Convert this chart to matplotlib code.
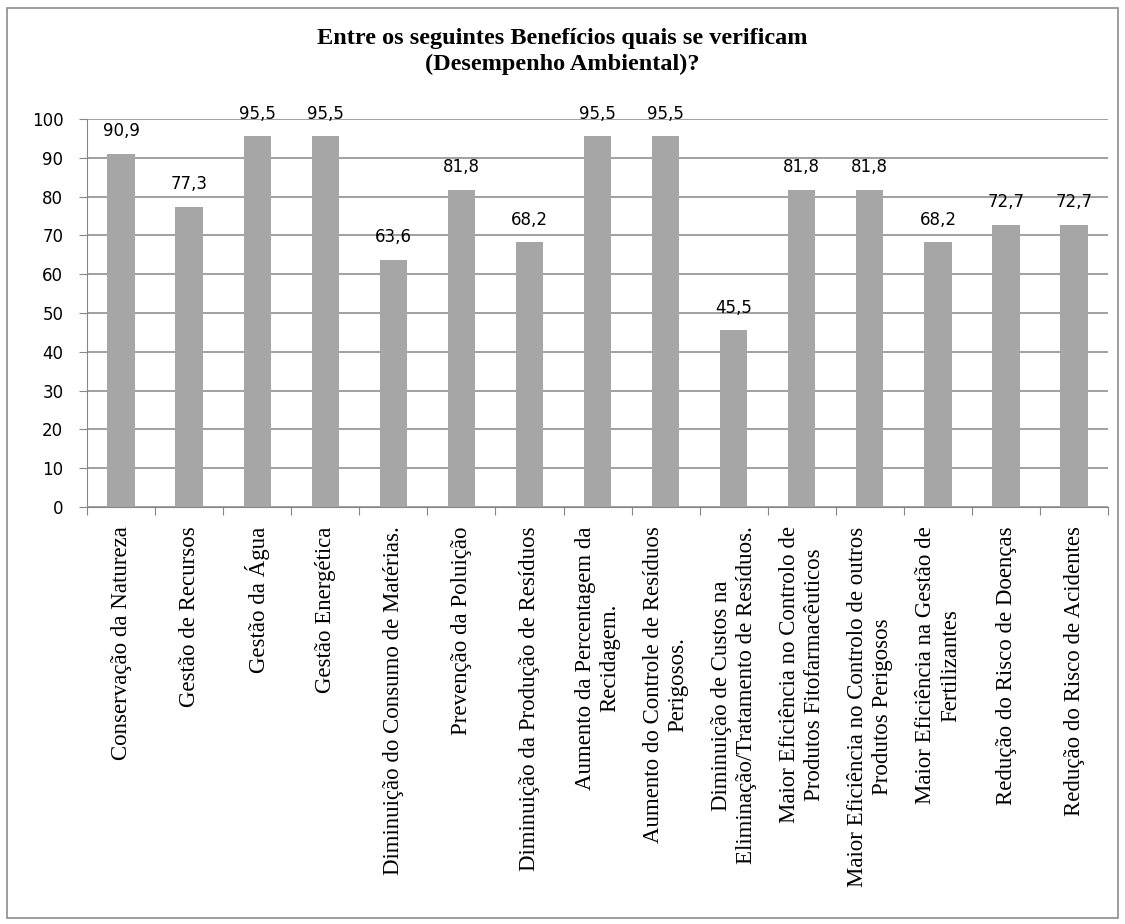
import matplotlib
matplotlib.use('Agg')
import matplotlib.pyplot as plt
import numpy as np
from matplotlib.patches import Rectangle

# ── Dados ─────────────────────────────────────────────────────────────────────
categorias = [
    'Conservação da Natureza',
    'Gestão de Recursos',
    'Gestão da Água',
    'Gestão Energética',
    'Diminuição do Consumo de Matérias.',
    'Prevenção da Poluição',
    'Diminuição da Produção de Resíduos',
    'Aumento da Percentagem da\nRecidagem.',
    'Aumento do Controle de Resíduos\nPerigosos.',
    'Diminuição de Custos na\nEliminação/Tratamento de Resíduos.',
    'Maior Eficiência no Controlo de\nProdutos Fitofarmacêuticos',
    'Maior Eficiência no Controlo de outros\nProdutos Perigosos',
    'Maior Eficiência na Gestão de\nFertilizantes',
    'Redução do Risco de Doenças',
    'Redução do Risco de Acidentes',
]
valores = [90.9, 77.3, 95.5, 95.5, 63.6, 81.8, 68.2, 95.5, 95.5, 45.5,
           81.8, 81.8, 68.2, 72.7, 72.7]
y_ticks = list(range(0, 101, 10))

titulo = 'Entre os seguintes Benefícios quais se verificam\n(Desempenho Ambiental)?'

BAR = '#a6a6a6'
GRID = '#868686'
SERIF = 'Liberation Serif'

fig = plt.figure(figsize=(11.25, 9.24), dpi=100)
fig.patches.append(Rectangle((0.006, 0.006), 0.988, 0.985, transform=fig.transFigure,
                             fill=False, edgecolor='#8c8c8c', lw=1.2))

ax = fig.add_axes([0.0773, 0.4513, 0.9077, 0.4199])
x = np.arange(len(categorias))
ax.bar(x, valores, width=0.4, color=BAR, zorder=2)

for xi, v in zip(x, valores):
    ax.annotate(f'{v:.1f}'.replace('.', ','), (xi, v), xytext=(0, 10),
                textcoords='offset points', ha='center', va='bottom',
                fontsize=12, color='black', family='DejaVu Sans', zorder=3)

ax.set_xlim(-0.5, len(categorias) - 0.5)
ax.set_ylim(0, 100)
ax.set_yticks(y_ticks)
ax.set_yticklabels([str(t) for t in y_ticks], fontsize=12, family='DejaVu Sans')
ax.yaxis.grid(True, color=GRID, lw=1.1, zorder=0)
ax.set_axisbelow(True)

for s in ('top', 'right'):
    ax.spines[s].set_visible(False)
ax.spines['left'].set_color(GRID)
ax.spines['bottom'].set_color(GRID)
ax.tick_params(axis='y', length=6, color=GRID, pad=11)

# ticks do eixo x nas fronteiras das categorias
ax.set_xticks(np.arange(-0.5, len(categorias), 1.0))
ax.set_xticklabels([])
ax.tick_params(axis='x', length=6, color=GRID)

for xi, lab in zip(x, categorias):
    ax.text(xi, -0.05, lab, transform=ax.get_xaxis_transform(), rotation=90,
            ha='center', va='top', multialignment='center',
            fontsize=16.5, family=SERIF, linespacing=1.25)

fig.text(0.5, 0.944, titulo, ha='center', va='center', fontsize=17.5,
         fontweight='bold', family=SERIF, linespacing=1.3)

fig.savefig('out.png', dpi=100)
